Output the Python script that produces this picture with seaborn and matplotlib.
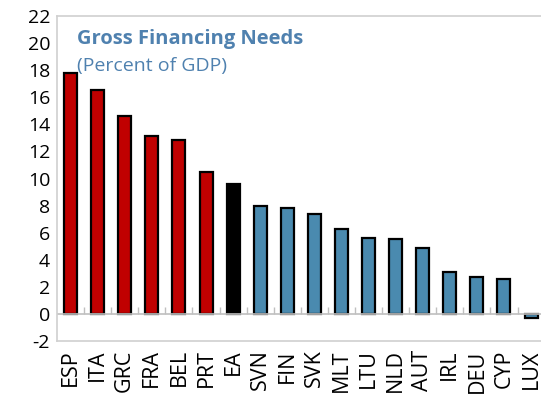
import matplotlib
matplotlib.use("Agg")
import matplotlib.pyplot as plt
import seaborn as sns
import pandas as pd

countries = ["ESP", "ITA", "GRC", "FRA", "BEL", "PRT", "EA", "SVN", "FIN", "SVK",
             "MLT", "LTU", "NLD", "AUT", "IRL", "DEU", "CYP", "LUX"]
values = [17.8, 16.5, 14.6, 13.15, 12.85, 10.5, 9.6, 8.0, 7.85, 7.4,
          6.3, 5.6, 5.55, 4.9, 3.1, 2.7, 2.55, -0.3]
groups = ["high"] * 6 + ["ea"] + ["low"] * 11
y_ticks = list(range(-2, 23, 2))

group_colors = {"high": "#C00000", "ea": "#000000", "low": "#4A8AAF"}
df = pd.DataFrame({"country": countries, "value": values, "group": groups})

sns.set_theme(style="white")
plt.rcParams["font.family"] = ["Open Sans", "DejaVu Sans"]

fig = plt.figure(figsize=(5.41, 3.94), dpi=100)
ax = fig.add_axes([0.1054, 0.1345, 0.9013, 0.8249])

palette = [group_colors[g] for g in groups]
sns.barplot(data=df, x="country", y="value", hue="country", palette=palette,
            legend=False, width=0.48, edgecolor="black", linewidth=1.6, ax=ax,
            saturation=1)

ax.set_xlim(-0.5, len(countries) - 0.5)
ax.set_ylim(-2, 22)
ax.set_yticks(y_ticks)
ax.set_yticklabels([str(t) for t in y_ticks], fontsize=14, color="black")
ax.set_xlabel("")
ax.set_ylabel("")
ax.set_xticks(range(len(countries)))
ax.set_xticklabels(countries, rotation=90, fontsize=15.5, color="black",
                   va="top", ha="center")
ax.tick_params(axis="x", length=0, pad=6)
ax.tick_params(axis="y", direction="in", length=4, color="#BFBFBF", width=1, pad=5)

for s in ax.spines.values():
    s.set_color("#D0D0D0")
    s.set_linewidth(1.2)

# zero line with category separator ticks
ax.axhline(0, color="#BFBFBF", linewidth=1.2, zorder=1)
sec = ax.secondary_xaxis(2 / 24)
sec.set_xticks([i + 0.5 for i in range(len(countries) - 1)])
sec.set_xticklabels([])
sec.tick_params(direction="in", length=5, color="#BFBFBF", width=1)
sec.spines["bottom"].set_visible(False)
sec.spines["top"].set_visible(False)

ax.text(0.04, 0.96, "Gross Financing Needs", transform=ax.transAxes,
        fontsize=14.5, fontweight="bold", color="#4F81AF", va="top", ha="left")
ax.text(0.04, 0.875, "(Percent of GDP)", transform=ax.transAxes,
        fontsize=14, color="#4F81AF", va="top", ha="left")

fig.savefig("out.png", dpi=100)
